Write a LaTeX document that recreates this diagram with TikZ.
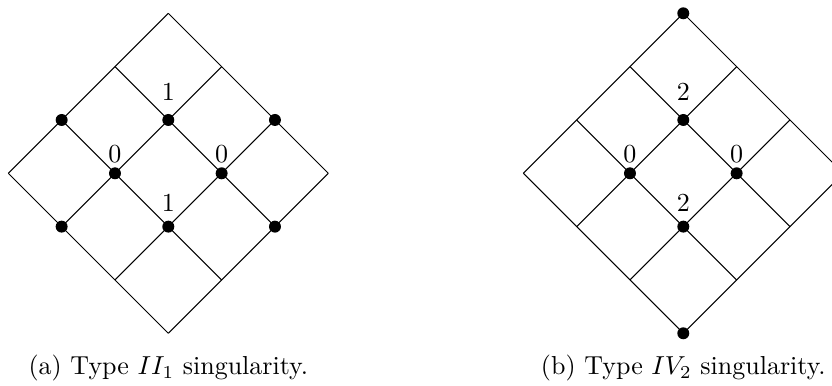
\documentclass[tikz,border=0pt]{standalone}
\usepackage{amsmath}
\usepackage{tikz}
\usetikzlibrary{positioning,calc}
\tikzset{
  gridline/.style={draw=black, line width=0.4pt},
  dotnode/.style={circle, fill=black, inner sep=0pt, minimum size=4.6pt},
  numlabel/.style={anchor=base, inner sep=0pt, font=\normalsize},
  subcaption/.style={anchor=base, inner sep=0pt, font=\normalsize}
}

\begin{document}
\begin{tikzpicture}[x=0.3846pt, y=-0.3846pt]
        \useasboundingbox (0,0) rectangle (832,385);
        \clip (0,0) rectangle (832,385);
        % grid points of both diamonds
        \foreach \i in {0,...,3} {
          \foreach \j in {0,...,3} {
            \coordinate (a\i\j) at ({168.3+53.33*(\i-\j)},{13.3+53.33*(\i+\j)});
            \coordinate (b\i\j) at ({683.3+53.33*(\i-\j)},{13.3+53.33*(\i+\j)});
          }
        }
        \foreach \k in {0,...,3} {
          \draw[gridline] (a\k0) -- (a\k3);
          \draw[gridline] (a0\k) -- (a3\k);
          \draw[gridline] (b\k0) -- (b\k3);
          \draw[gridline] (b0\k) -- (b3\k);
        }

        % (a) type II_1
        \foreach \p in {a02,a11,a20,a12,a21,a13,a22,a31}
          \node[dotnode] (d\p) at (\p) {};
        \node[numlabel] (la11) at ([yshift=7.3pt]da11.center) {1};
        \node[numlabel] (la12) at ([yshift=4.1pt]da12.center) {0};
        \node[numlabel] (la21) at ([yshift=4.1pt]da21.center) {0};
        \node[numlabel] (la22) at ([yshift=5.8pt]da22.center) {1};
        \node[subcaption] (capa) at ([yshift=-15.7pt]a33) {(a) Type $II_1$ singularity.};

        % (b) type IV_2
        \foreach \p in {b00,b11,b12,b21,b22,b33}
          \node[dotnode] (d\p) at (\p) {};
        \node[numlabel] (lb11) at ([yshift=7.3pt]db11.center) {2};
        \node[numlabel] (lb12) at ([yshift=4.1pt]db12.center) {0};
        \node[numlabel] (lb21) at ([yshift=4.1pt]db21.center) {0};
        \node[numlabel] (lb22) at ([yshift=5.8pt]db22.center) {2};
        \node[subcaption] (capb) at ([yshift=-15.7pt]b33) {(b) Type $IV_2$ singularity.};
\end{tikzpicture}
\end{document}
